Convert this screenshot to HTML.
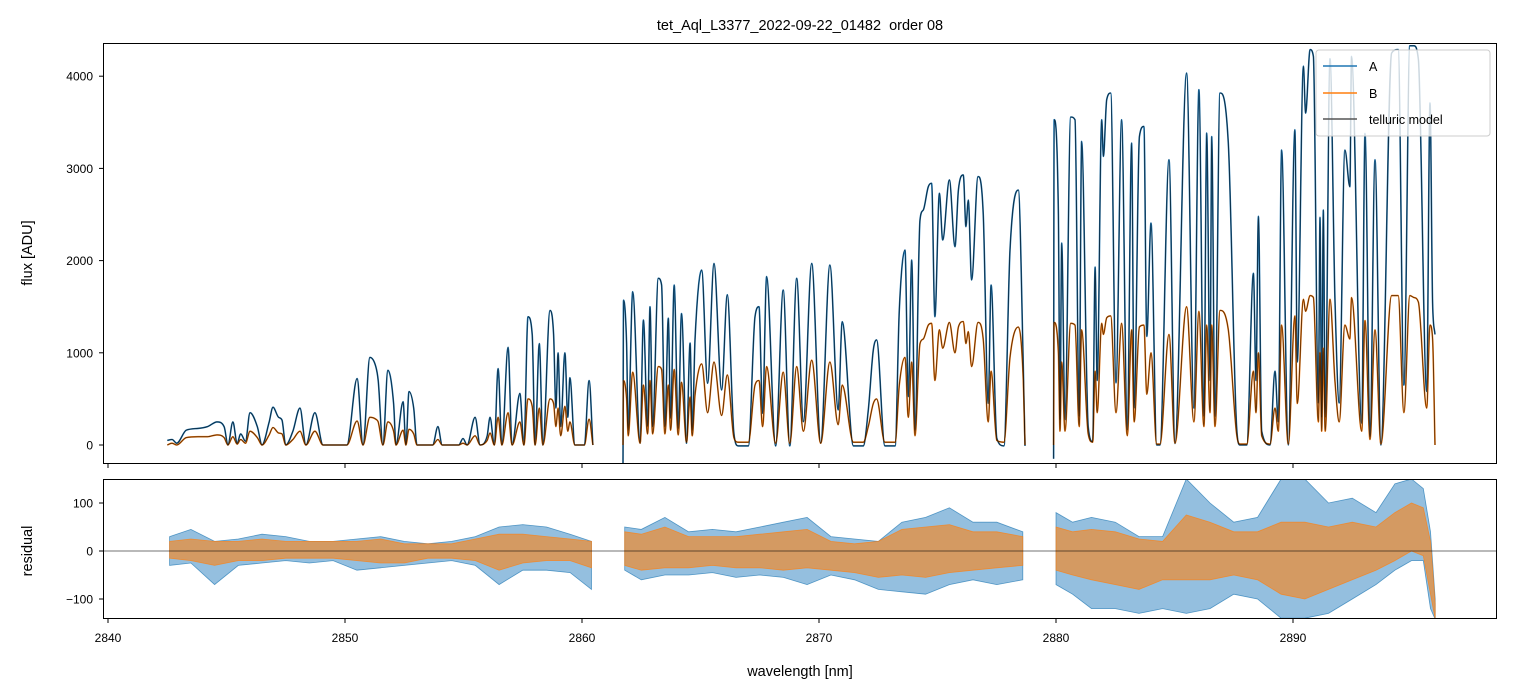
<!DOCTYPE html>
<html><head><meta charset="utf-8">
<style>
html,body{margin:0;padding:0;background:#fff;}
svg{display:block;font-family:"Liberation Sans","DejaVu Sans",sans-serif;}
</style></head>
<body>
<svg id="chart" width="1513" height="696" viewBox="0 0 1513 696" xmlns="http://www.w3.org/2000/svg">
<defs>
<clipPath id="clipTop"><rect x="103" y="43" width="1394" height="421"/></clipPath>
<clipPath id="clipBot"><rect x="103" y="479" width="1394" height="140"/></clipPath>
</defs>
<rect width="1513" height="696" fill="#fff"/>
<text x="800" y="30" font-size="14.5" text-anchor="middle" style="white-space:pre" xml:space="preserve">tet_Aql_L3377_2022-09-22_01482  order 08</text>
<g id="topMarks" clip-path="url(#clipTop)"></g>
<g id="botMarks" clip-path="url(#clipBot)"></g>
<rect x="103.5" y="43.5" width="1393" height="420" fill="none" stroke="#000" stroke-width="1"/>
<rect x="103.5" y="479.5" width="1393" height="139" fill="none" stroke="#000" stroke-width="1"/>
<g id="axes"></g>
<text transform="translate(32,253) rotate(-90)" font-size="14.5" text-anchor="middle">flux [ADU]</text>
<text transform="translate(32,551) rotate(-90)" font-size="14.5" text-anchor="middle">residual</text>
<text x="800" y="676" font-size="14.5" text-anchor="middle">wavelength [nm]</text>
<g>
<rect x="1316" y="50" width="174" height="86" rx="3" fill="#fff" fill-opacity="0.8" stroke="#ccc"/>
<g><line x1="1323" y1="66" x2="1357" y2="66" stroke="#1f77b4" stroke-width="1.5"/><text x="1369" y="71" font-size="12.5">A</text></g>
<g><line x1="1323" y1="93" x2="1357" y2="93" stroke="#ff7f0e" stroke-width="1.5"/><text x="1369" y="98" font-size="12.5">B</text></g>
<g><line x1="1323" y1="119" x2="1357" y2="119" stroke="#555" stroke-width="1.5"/><text x="1369" y="124" font-size="12.5">telluric model</text></g>
</g>
</svg>
<script>
// ---- flux data (wavelength nm, ADU) per detector segment ----
const wlSeg1 = [2842.5,2842.7,2842.9,2843.3,2843.8,2844.2,2844.6,2844.9,2845.06,2845.27,2845.45,2845.6,2845.8,2845.99,2846.3,2846.5,2846.8,2846.96,2847.2,2847.34,2847.5,2847.8,2848.1,2848.35,2848.73,2849.07,2850.08,2850.51,2850.76,2851.05,2851.3,2851.4,2851.6,2851.81,2852.05,2852.15,2852.45,2852.57,2852.7,2852.9,2853.04,2853.7,2853.92,2854.1,2854.8,2854.98,2855.15,2855.49,2855.7,2856.0,2856.12,2856.3,2856.46,2856.62,2856.88,2857.05,2857.38,2857.55,2857.72,2857.9,2858.02,2858.2,2858.35,2858.65,2858.8,2858.9,2858.99,2859.1,2859.28,2859.4,2859.49,2859.7,2860.1,2860.3,2860.46];
const fluxASeg1 = [50,60,20,160,180,200,250,200,0,250,20,120,40,350,200,0,250,410,300,270,0,150,400,0,350,0,0,720,0,950,850,700,0,810,450,0,470,0,580,400,0,0,200,0,0,70,0,300,0,100,300,0,830,0,1060,0,560,0,1390,1200,0,1100,0,1460,1200,400,1000,200,1000,300,730,0,0,700,0];
const fluxBSeg1 = [0,20,0,80,90,90,110,80,0,90,10,60,20,150,80,0,110,190,130,120,0,60,150,0,150,0,0,260,0,300,280,250,0,250,150,0,160,0,170,120,0,0,60,0,0,20,0,100,0,50,130,0,300,0,350,0,250,0,500,420,0,400,0,500,450,200,400,100,420,150,250,0,0,280,0];

const wlSeg2 = [2861.73,2861.75,2861.88,2861.95,2862.14,2862.45,2862.59,2862.77,2862.87,2862.98,2863.22,2863.36,2863.50,2863.64,2863.74,2863.89,2864.06,2864.20,2864.41,2864.56,2864.65,2864.77,2865.05,2865.30,2865.57,2865.89,2866.13,2866.41,2866.59,2867.02,2867.30,2867.47,2867.62,2867.79,2868.17,2868.49,2868.77,2869.06,2869.34,2869.69,2870.07,2870.46,2870.81,2870.98,2871.45,2871.87,2872.08,2872.29,2872.43,2872.78,2873.21,2873.39,2873.63,2873.77,2873.91,2874.05,2874.26,2874.40,2874.61,2874.75,2874.89,2875.08,2875.22,2875.50,2875.74,2875.88,2876.09,2876.20,2876.30,2876.44,2876.71,2876.93,2877.14,2877.26,2877.50,2877.80,2878.06,2878.41,2878.62,2878.69];
const fluxASeg2 = [-200,1570,1100,160,1663,20,1356,200,1500,200,1808,1735,200,1375,290,1735,180,1425,20,1106,160,1140,1897,669,1970,597,1630,127,-10,-10,1392,1500,344,1826,-10,1681,-10,1808,253,1970,20,1952,380,1337,-10,-10,380,1030,1140,-10,-10,1464,2115,525,2006,160,2440,2549,2802,2838,1392,2730,2223,2875,2151,2766,2929,2368,2657,1790,2911,2513,452,1735,74,-10,2115,2766,850,-10];
const fluxBSeg2 = [0,700,500,100,790,20,650,120,700,120,850,820,120,650,160,820,110,680,30,520,100,540,880,350,900,320,760,80,30,30,650,700,200,850,20,790,20,850,150,920,20,900,220,650,30,30,200,450,500,30,30,650,950,300,900,100,1100,1150,1300,1320,700,1250,1050,1330,1000,1280,1340,1100,1230,850,1330,1150,250,800,50,30,950,1280,700,0];

const wlSeg3 = [2879.90,2879.92,2880.10,2880.17,2880.24,2880.38,2880.62,2880.80,2880.98,2881.08,2881.36,2881.55,2881.65,2881.74,2881.93,2882.00,2882.14,2882.31,2882.53,2882.77,2883.01,2883.19,2883.30,2883.52,2883.71,2883.83,2884.01,2884.25,2884.39,2884.77,2885.02,2885.51,2885.82,2886.03,2886.24,2886.36,2886.50,2886.57,2886.71,2886.92,2887.27,2887.62,2887.76,2888.05,2888.33,2888.44,2888.54,2888.68,2889.03,2889.24,2889.38,2889.52,2889.80,2890.08,2890.18,2890.44,2890.53,2890.72,2890.86,2891.07,2891.14,2891.21,2891.28,2891.36,2891.56,2891.77,2891.95,2892.19,2892.40,2892.47,2892.90,2893.04,2893.25,2893.46,2893.71,2894.16,2894.44,2894.68,2894.93,2895.10,2895.29,2895.64,2895.78,2895.89,2895.99];
const fluxASeg3 = [-150,3528,2500,275,2190,275,3557,3528,311,3293,200,36,1930,700,3528,3130,3745,3818,673,3528,163,3275,400,3345,3455,1178,2407,0,0,3094,16,4035,400,3854,311,3384,700,3345,311,3818,3275,200,0,0,1862,700,2480,150,0,800,250,3200,0,3420,900,4108,3600,4288,4215,455,2470,300,2550,300,4190,1600,455,3200,2800,4215,235,3380,90,3094,0,4250,4290,650,4330,4330,4180,580,3710,1540,1200];
const fluxBSeg3 = [0,1330,1000,150,900,150,1320,1300,200,1250,120,30,800,350,1320,1200,1380,1400,350,1320,100,1250,250,1280,1300,550,1000,10,10,1200,20,1500,250,1450,200,1300,350,1300,200,1460,1250,120,10,10,800,350,1000,100,10,400,150,1300,10,1400,450,1580,1450,1620,1600,250,1000,150,1050,150,1580,700,250,1300,1150,1600,150,1350,60,1250,10,1620,1620,350,1620,1600,1550,400,1300,1150,0];

// ---- residual envelopes (upper / lower) per segment ----
const resWlSeg1 = [2842.6,2843.5,2844.5,2845.5,2846.5,2847.5,2848.5,2849.5,2850.5,2851.5,2852.5,2853.5,2854.5,2855.5,2856.5,2857.5,2858.5,2859.5,2860.4];
const resAHiSeg1 = [30,45,20,25,35,30,20,20,25,30,20,15,20,30,50,55,50,35,20];
const resALoSeg1 = [-30,-25,-70,-30,-25,-20,-25,-20,-40,-35,-30,-25,-20,-30,-70,-40,-40,-45,-80];
const resBHiSeg1 = [20,25,20,20,25,20,20,20,20,25,15,15,15,25,35,35,30,25,20];
const resBLoSeg1 = [-15,-20,-30,-20,-20,-15,-15,-15,-20,-25,-25,-15,-15,-20,-40,-25,-20,-20,-35];

const resWlSeg2 = [2861.8,2862.5,2863.5,2864.5,2865.5,2866.5,2867.5,2868.5,2869.5,2870.5,2871.5,2872.5,2873.5,2874.5,2875.5,2876.5,2877.5,2878.6];
const resAHiSeg2 = [50,45,70,40,45,40,50,60,70,30,25,20,60,70,90,60,60,40];
const resALoSeg2 = [-40,-60,-50,-50,-45,-55,-50,-55,-70,-50,-60,-80,-85,-90,-70,-60,-70,-60];
const resBHiSeg2 = [40,35,50,30,30,30,35,40,45,20,15,20,45,50,55,40,40,30];
const resBLoSeg2 = [-30,-40,-35,-35,-30,-35,-35,-40,-35,-40,-45,-55,-50,-55,-45,-40,-35,-30];

const resWlSeg3 = [2880.0,2880.7,2881.5,2882.5,2883.5,2884.5,2885.5,2886.5,2887.5,2888.5,2889.5,2890.5,2891.5,2892.5,2893.5,2894.3,2895.0,2895.5,2895.8,2896.0];
const resAHiSeg3 = [80,60,70,60,30,30,150,100,60,70,150,150,100,110,80,140,150,130,40,-100];
const resALoSeg3 = [-70,-90,-120,-120,-130,-120,-130,-120,-90,-100,-140,-140,-130,-100,-70,-40,-20,-20,-120,-142];
const resBHiSeg3 = [50,40,45,40,25,20,75,60,40,40,60,60,50,60,50,80,100,90,20,-110];
const resBLoSeg3 = [-40,-50,-60,-70,-80,-60,-60,-60,-50,-60,-90,-100,-80,-60,-40,-20,0,-10,-90,-142];

// ---- ticks ----
const xTicks = [2840,2850,2860,2870,2880,2890];
const fluxTicks = [0,1000,2000,3000,4000];
const resTicks = [100,0,-100];

// ---- axis functions ----
function xS(w){ return 108 + (w-2840)*23.7; }
function yT(f){ return 445 - f*0.0922; }
function yB(r){ return 551 - r*0.48; }

const NS = "http://www.w3.org/2000/svg";
const topG = document.getElementById('topMarks');
const botG = document.getElementById('botMarks');
const axesG = document.getElementById('axes');

function mk(tag, attrs, parent){
  const e = document.createElementNS(NS, tag);
  for (const k in attrs) e.setAttribute(k, attrs[k]);
  parent.appendChild(e);
  return e;
}
// monotone cubic (like curveMonotoneX) for rounded peaks without overshoot
function smoothPath(wl, vals, ys){
  const n = Math.min(wl.length, vals.length);
  const X = [], Y = [];
  for (let i=0;i<n;i++){ X.push(xS(wl[i])); Y.push(ys(vals[i])); }
  if (n < 2) return '';
  const d = [], m = [];
  for (let i=0;i<n-1;i++){ const h = X[i+1]-X[i]; d.push(h>0 ? (Y[i+1]-Y[i])/h : 0); }
  m.push(d[0]);
  for (let i=1;i<n-1;i++) m.push(d[i-1]*d[i] <= 0 ? 0 : (d[i-1]+d[i])/2);
  m.push(d[n-2]);
  for (let i=0;i<n-1;i++){
    if (d[i] === 0){ m[i]=0; m[i+1]=0; continue; }
    const a = m[i]/d[i], b = m[i+1]/d[i], s = a*a+b*b;
    if (s > 9){ const t = 3/Math.sqrt(s); m[i]=t*a*d[i]; m[i+1]=t*b*d[i]; }
  }
  let p = 'M' + X[0].toFixed(1) + ' ' + Y[0].toFixed(1);
  for (let i=0;i<n-1;i++){
    const h = (X[i+1]-X[i])/3;
    p += 'C' + (X[i]+h).toFixed(1) + ' ' + (Y[i]+m[i]*h).toFixed(1) + ' ' +
         (X[i+1]-h).toFixed(1) + ' ' + (Y[i+1]-m[i+1]*h).toFixed(1) + ' ' +
         X[i+1].toFixed(1) + ' ' + Y[i+1].toFixed(1);
  }
  return p;
}
function bandPath(wl, hi, lo){
  const n = Math.min(wl.length, hi.length, lo.length);
  let d = '';
  for (let i=0;i<n;i++) d += (i?'L':'M') + xS(wl[i]).toFixed(1) + ' ' + yB(hi[i]).toFixed(1);
  for (let i=n-1;i>=0;i--) d += 'L' + xS(wl[i]).toFixed(1) + ' ' + yB(lo[i]).toFixed(1);
  return d + 'Z';
}

const segs = [
  [wlSeg1, fluxASeg1, fluxBSeg1],
  [wlSeg2, fluxASeg2, fluxBSeg2],
  [wlSeg3, fluxASeg3, fluxBSeg3]
];
segs.forEach((s, i) => {
  const a = mk('path', {d: smoothPath(s[0], s[1], yT), fill:'none', stroke:'#1f77b4', 'stroke-width':1.6, 'stroke-linejoin':'round'}, topG);
  
  
  const b = mk('path', {d: smoothPath(s[0], s[2], yT), fill:'none', stroke:'#ff7f0e', 'stroke-width':1.6, 'stroke-linejoin':'round'}, topG);
  
  
});
segs.forEach((s, i) => {
  const ma = mk('path', {d: smoothPath(s[0], s[1], yT), fill:'none', stroke:'#000', 'stroke-opacity':0.6, 'stroke-width':1, 'stroke-linejoin':'round'}, topG);
  
  
  const mb = mk('path', {d: smoothPath(s[0], s[2], yT), fill:'none', stroke:'#000', 'stroke-opacity':0.6, 'stroke-width':1, 'stroke-linejoin':'round'}, topG);
  
  
});

const rsegs = [
  [resWlSeg1, resAHiSeg1, resALoSeg1, resBHiSeg1, resBLoSeg1],
  [resWlSeg2, resAHiSeg2, resALoSeg2, resBHiSeg2, resBLoSeg2],
  [resWlSeg3, resAHiSeg3, resALoSeg3, resBHiSeg3, resBLoSeg3]
];
rsegs.forEach((s, i) => {
  const ra = mk('path', {d: bandPath(s[0], s[1], s[2]), fill:'#3d8bc4', 'fill-opacity':0.55, stroke:'#1f77b4', 'stroke-width':0.8, 'stroke-opacity':0.7}, botG);
  
  
});
rsegs.forEach((s, i) => {
  const rb = mk('path', {d: bandPath(s[0], s[3], s[4]), fill:'#f08a2c', 'fill-opacity':0.7, stroke:'#ff7f0e', 'stroke-width':0.8, 'stroke-opacity':0.7}, botG);
  
  
});
const zl = mk('line', {x1:103, x2:1497, y1:yB(0), y2:yB(0), stroke:'#000', 'stroke-opacity':0.55, 'stroke-width':1}, botG);



// ticks
xTicks.forEach(t => {
  const x = xS(t);
  const t1 = mk('line', {x1:x, x2:x, y1:464, y2:468, stroke:'#000'}, axesG);
  
  
  const t2 = mk('line', {x1:x, x2:x, y1:619, y2:623, stroke:'#000'}, axesG);
  
  
  const lb = mk('text', {x:x, y:642, 'font-size':12, 'text-anchor':'middle'}, axesG);
  lb.textContent = String(t);
  
  
});
fluxTicks.forEach(t => {
  const y = yT(t);
  const tk = mk('line', {x1:99, x2:103, y1:y, y2:y, stroke:'#000'}, axesG);
  
  
  const lb = mk('text', {x:93, y:y+4.5, 'font-size':12, 'text-anchor':'end'}, axesG);
  lb.textContent = String(t);
  
  
});
resTicks.forEach(t => {
  const y = yB(t);
  const tk = mk('line', {x1:99, x2:103, y1:y, y2:y, stroke:'#000'}, axesG);
  
  
  const lb = mk('text', {x:93, y:y+4.5, 'font-size':12, 'text-anchor':'end'}, axesG);
  lb.textContent = t < 0 ? '\u2212' + Math.abs(t) : String(t);
  
  
});
</script>
</body></html>
